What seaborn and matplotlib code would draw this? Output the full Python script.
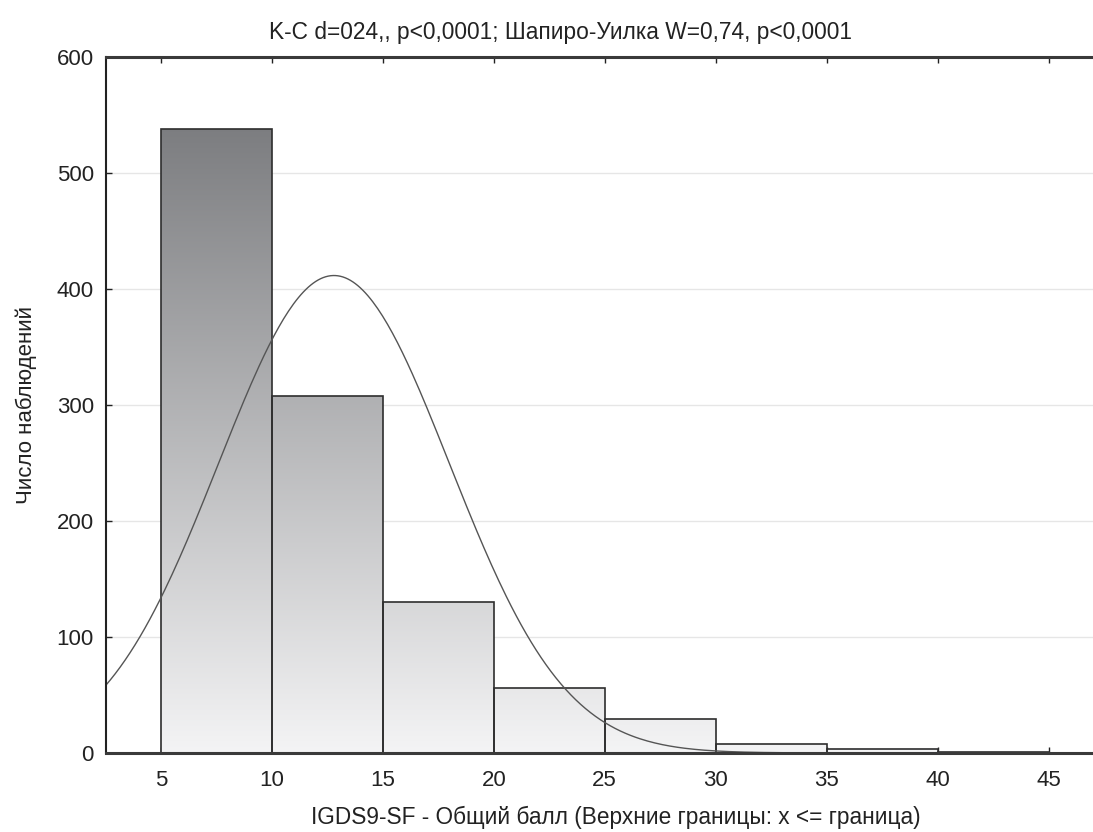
import numpy as np
import pandas as pd
import seaborn as sns
import matplotlib.pyplot as plt
from matplotlib.colors import LinearSegmentedColormap

# upper bounds of the classes and observed counts
bin_edges = [5, 10, 15, 20, 25, 30, 35, 40, 45]
counts = [538, 308, 130, 56, 29, 8, 3, 1]

# fitted normal curve parameters
curve_mean = 12.8
curve_sd = 5.2
n_total = sum(counts)
bin_width = 5

title = "K-C d=024,, p<0,0001; Шапиро-Уилка W=0,74, p<0,0001"
xlabel = "IGDS9-SF - Общий балл (Верхние границы: x <= граница)"
ylabel = "Число наблюдений"

sns.set_style("white")
plt.rcParams['font.family'] = ['Liberation Sans', 'DejaVu Sans']

fig = plt.figure(figsize=(10.93, 8.32), dpi=100)
ax = fig.add_axes([0.0974, 0.095, 0.9026, 0.8365])

mids = [(a + b) / 2 for a, b in zip(bin_edges[:-1], bin_edges[1:])]
df = pd.DataFrame({"x": mids, "n": counts})
sns.histplot(data=df, x="x", weights="n", bins=bin_edges, ax=ax,
             color="white", edgecolor="#2e2e2e", linewidth=1.2, alpha=1)

# vertical grey gradient inside every bar
cmap = LinearSegmentedColormap.from_list("g", ["#f4f4f5", "#7c7d80"])
grad = np.linspace(0, 1, 256).reshape(-1, 1)
for p in ax.patches:
    x0, w = p.get_x(), p.get_width()
    im = ax.imshow(grad, cmap=cmap, aspect="auto", origin="lower",
                   extent=[x0, x0 + w, 0, 540], zorder=p.get_zorder() - 0.1,
                   interpolation="bilinear")
    im.set_clip_path(p)
    p.set_facecolor("none")

# normal curve
xs = np.linspace(2.5, 47, 400)
ys = n_total * bin_width / (curve_sd * np.sqrt(2 * np.pi)) * np.exp(-0.5 * ((xs - curve_mean) / curve_sd) ** 2)
sns.lineplot(x=xs, y=ys, ax=ax, color="#555555", linewidth=1.0)

ax.set_xlim(2.55, 47)
ax.set_ylim(0, 600)
ax.set_xticks([5, 10, 15, 20, 25, 30, 35, 40, 45])
ax.set_yticks([0, 100, 200, 300, 400, 500, 600])
ax.yaxis.grid(True, color="#e6e6e6", linewidth=1)
ax.set_axisbelow(True)

ax.spines["right"].set_visible(False)
ax.spines["top"].set_linewidth(2.2)
ax.spines["top"].set_color("#3a3a3a")
ax.spines["bottom"].set_linewidth(2.2)
ax.spines["bottom"].set_color("#3a3a3a")
ax.spines["left"].set_linewidth(1.5)
ax.spines["left"].set_color("#222222")

ax.tick_params(axis="both", direction="in", length=4, width=1, labelsize=16, colors="#222222")
ax.tick_params(axis="x", top=True, bottom=True, pad=12)
ax.tick_params(axis="y", left=True, pad=9)

ax.set_title(title, fontsize=16.4, color="#222222", pad=13, x=0.4607)
ax.set_xlabel(xlabel, fontsize=16.3, color="#222222", labelpad=11, x=0.516)
ax.set_ylabel(ylabel, fontsize=16, color="#222222", labelpad=14)

plt.savefig("out.png", dpi=100)
